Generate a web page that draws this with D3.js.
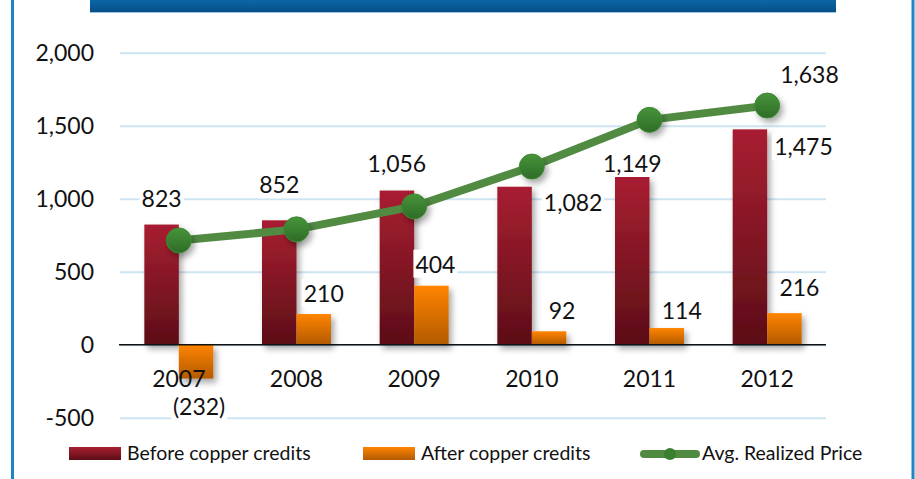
<!DOCTYPE html>
<html>
<head>
<meta charset="utf-8">
<style>
  html, body { margin: 0; padding: 0; background: #fff; }
  svg { display: block; font-family: Lato, "Open Sans", sans-serif; }
</style>
</head>
<body>
<div id="chart"></div>
<script src="https://cdn.jsdelivr.net/npm/d3@7"></script>
<script>

// data
var years = ["2007", "2008", "2009", "2010", "2011", "2012"];
var beforeCredits = [823, 852, 1056, 1082, 1149, 1475];
var afterCredits = [-232, 210, 404, 92, 114, 216];
var avgPrice = [714, 790, 947, 1220, 1540, 1638];
var yTicks = [-500, 0, 500, 1000, 1500, 2000];
var seriesNames = ["Before copper credits", "After copper credits", "Avg. Realized Price"];

// label placement (how Excel nudged each data label)
var beforeLabelSide = ["top", "top", "top", "right", "top", "right"];
var beforeLabelDy = [-18, -27, -19, 24, -5, 26];
var afterLabelDx = [3, 10, 4, 13, 15, 15];
var afterLabelDy = [36, -12, -13, -12, -9, -17];

var W = 915, H = 479;
var left = 120, right = 826;

var svg = d3.select("#chart").append("svg")
    .attr("width", W)
    .attr("height", H);

var defs = svg.append("defs");

function vGrad(id, top, bottom) {
  var g = defs.append("linearGradient").attr("id", id)
      .attr("x1", 0).attr("y1", 0).attr("x2", 0).attr("y2", 1);
  g.append("stop").attr("offset", "0%").attr("stop-color", top);
  g.append("stop").attr("offset", "100%").attr("stop-color", bottom);
}
vGrad("gRed", "#a81f31", "#5c0e17");
vGrad("gOrange", "#ff8400", "#b25a05");
vGrad("gGreen", "#47943a", "#2e6c27");
vGrad("gBanner", "#0a67a6", "#064f87");

var shadow = defs.append("filter").attr("id", "shadow")
    .attr("x", "-30%").attr("y", "-30%").attr("width", "170%").attr("height", "170%");
shadow.append("feDropShadow")
    .attr("dx", 3).attr("dy", 4).attr("stdDeviation", 3)
    .attr("flood-color", "#000").attr("flood-opacity", 0.35);

// frame: side borders and header band
svg.append("line").attr("x1", 12.5).attr("x2", 12.5).attr("y1", 0).attr("y2", H)
   .style("stroke", "#1b86c6").style("stroke-width", 3);
svg.append("line").attr("x1", 913).attr("x2", 913).attr("y1", 0).attr("y2", H)
   .style("stroke", "#1b86c6").style("stroke-width", 3);
svg.append("rect").attr("x", 90).attr("y", 0).attr("width", 746).attr("height", 12)
   .style("fill", "url(#gBanner)");
svg.append("line").attr("x1", 90).attr("x2", 836).attr("y1", 12.5).attr("y2", 12.5)
   .style("stroke", "#9cc3e0").style("stroke-width", 1);

// scales
var y = d3.scaleLinear().domain([-500, 2000]).range([417.7, 52.7]);
var x0 = d3.scaleBand().domain(years).range([left, right])
    .paddingInner(0.4136).paddingOuter(0.2068);
var x1 = d3.scaleBand().domain([0, 1]).range([0, x0.bandwidth()]);

// gridlines + value axis
var comma = d3.format(",");
var yAxis = d3.axisLeft(y).tickValues(yTicks)
    .tickSize(-(right - left)).tickPadding(26)
    .tickFormat(function(d) { return comma(d).replace("\u2212", "-"); });
var ga = svg.append("g").attr("transform", "translate(" + left + ",0)").call(yAxis);
ga.select(".domain").remove();
ga.selectAll(".tick line").style("stroke", "#cde4f3").style("stroke-width", 2);
ga.selectAll(".tick text").style("font-size", "23px").style("fill", "#111")
  .style("font-family", "Lato, sans-serif");

// bars
var bars = svg.append("g").attr("filter", "url(#shadow)");
bars.selectAll("rect.before").data(beforeCredits).enter().append("rect")
    .attr("class", "before")
    .attr("x", function(d, i) { return x0(years[i]) + x1(0); })
    .attr("width", x1.bandwidth())
    .attr("y", function(d) { return y(Math.max(0, d)); })
    .attr("height", function(d) { return Math.abs(y(d) - y(0)); })
    .style("fill", "url(#gRed)");
bars.selectAll("rect.after").data(afterCredits).enter().append("rect")
    .attr("class", "after")
    .attr("x", function(d, i) { return x0(years[i]) + x1(1); })
    .attr("width", x1.bandwidth())
    .attr("y", function(d) { return y(Math.max(0, d)); })
    .attr("height", function(d) { return Math.abs(y(d) - y(0)); })
    .style("fill", "url(#gOrange)");

// zero axis line
svg.append("line").attr("x1", left - 1).attr("x2", right)
   .attr("y1", y(0)).attr("y2", y(0))
   .style("stroke", "#111").style("stroke-width", 1.6);

// category labels
svg.selectAll("text.year").data(years).enter().append("text")
   .attr("class", "year")
   .attr("x", function(d) { return x0(d) + x0.bandwidth() / 2; })
   .attr("y", y(0) + 42)
   .attr("text-anchor", "middle")
   .style("font-size", "23px").style("fill", "#111")
   .text(function(d) { return d; });

// price line
var cx = function(d, i) { return x0(years[i]) + x0.bandwidth() / 2; };
var line = d3.line().x(cx).y(function(d) { return y(d); });
svg.append("path").datum(avgPrice)
   .attr("d", line)
   .style("fill", "none").style("stroke", "#518b42").style("stroke-width", 8)
   .style("stroke-linejoin", "round");
svg.append("g").attr("filter", "url(#shadow)")
   .selectAll("circle").data(avgPrice).enter().append("circle")
   .attr("cx", cx).attr("cy", function(d) { return y(d); })
   .attr("r", 12.5)
   .style("fill", "url(#gGreen)")
   .style("stroke", "#3d8a33").style("stroke-width", 1);

// data labels with white boxes
var labels = svg.append("g");
function addLabel(tx, ty, anchor, str) {
  var g = labels.append("g");
  var t = g.append("text").attr("x", tx).attr("y", ty)
      .attr("text-anchor", anchor)
      .style("font-size", "23px").style("fill", "#111").text(str);
  var bb = t.node().getBBox();
  g.insert("rect", "text")
   .attr("x", bb.x - 2).attr("y", bb.y)
   .attr("width", bb.width + 4).attr("height", bb.height)
   .style("fill", "#fff");
}

beforeCredits.forEach(function(d, i) {
  var bx = x0(years[i]) + x1(0);
  if (beforeLabelSide[i] == "right") {
    addLabel(bx + x1.bandwidth() + (i == 5 ? 7 : 12), y(d) + beforeLabelDy[i], "start", comma(d));
  } else {
    addLabel(bx + x1.bandwidth() / 2, y(d) + beforeLabelDy[i], "middle", comma(d));
  }
});

afterCredits.forEach(function(d, i) {
  var bx = x0(years[i]) + x1(1) + x1.bandwidth() / 2;
  var str = d < 0 ? "(" + comma(-d) + ")" : comma(d);
  addLabel(bx + afterLabelDx[i], y(d) + afterLabelDy[i], "middle", str);
});

// only the last price point is labelled
var last = avgPrice.length - 1;
addLabel(cx(avgPrice[last], last) + 13, y(avgPrice[last]) - 23, "start", comma(avgPrice[last]));

// legend
var leg = svg.append("g");
leg.append("rect").attr("x", 69).attr("y", 447).attr("width", 52).attr("height", 13)
   .style("fill", "url(#gRed)");
leg.append("text").attr("x", 127).attr("y", 460).text(seriesNames[0])
   .style("font-size", "19.5px").style("fill", "#111");
leg.append("rect").attr("x", 363).attr("y", 447).attr("width", 52).attr("height", 13)
   .style("fill", "url(#gOrange)");
leg.append("text").attr("x", 421).attr("y", 460).text(seriesNames[1])
   .style("font-size", "19.5px").style("fill", "#111");
leg.append("line").attr("x1", 644).attr("x2", 696).attr("y1", 454).attr("y2", 454)
   .style("stroke", "#518b42").style("stroke-width", 8).style("stroke-linecap", "round");
leg.append("circle").attr("cx", 670).attr("cy", 454).attr("r", 6)
   .style("fill", "#3a7f30");
leg.append("text").attr("x", 702).attr("y", 460).text(seriesNames[2])
   .style("font-size", "19.5px").style("fill", "#111");

</script>
</body>
</html>
